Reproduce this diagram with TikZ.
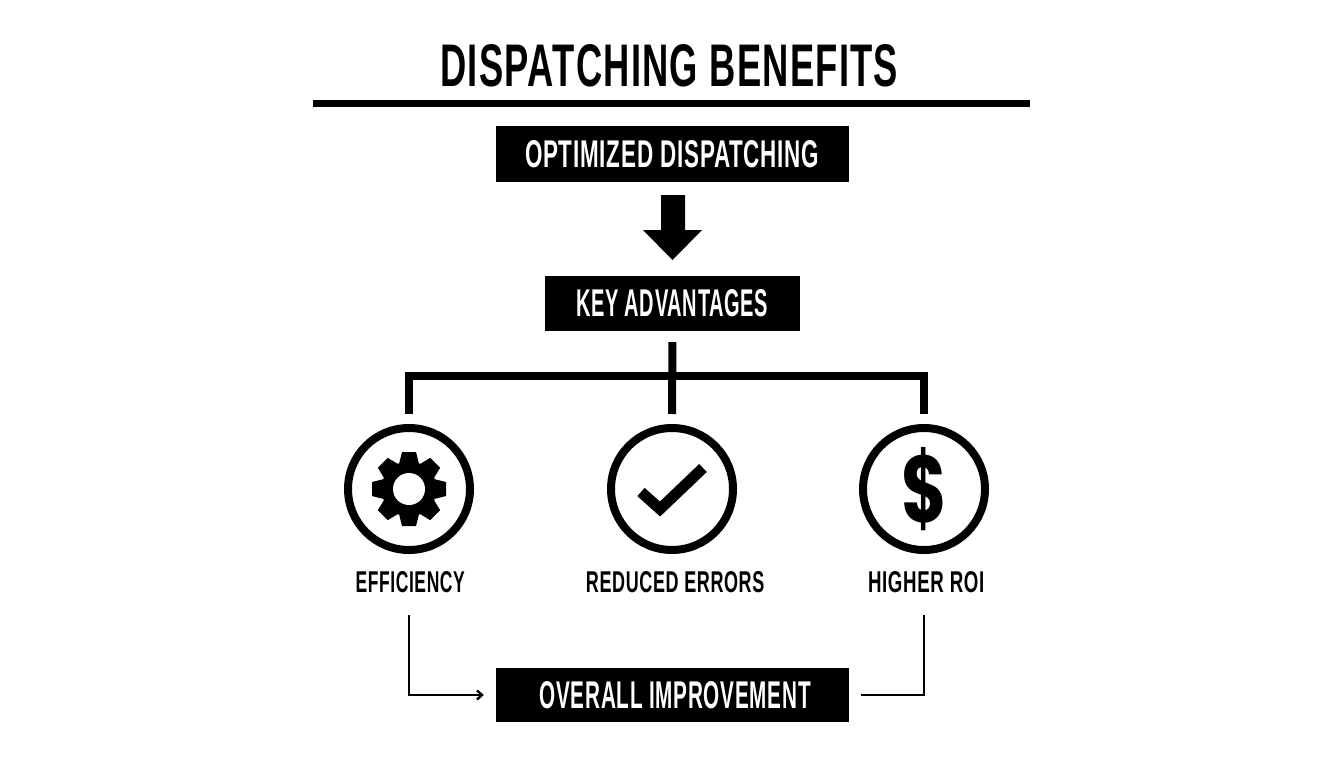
\documentclass[tikz,border=0pt]{standalone}
\usepackage{graphicx}
\usepackage{fontspec}
\setmainfont[LetterSpace=3.5]{Liberation Sans}
\newfontfamily\dollarfont{Poppins}
\usetikzlibrary{arrows.meta}
\newcommand{\fit}[3]{\resizebox{#1pt}{#2pt}{\textbf{#3}}}
\tikzset{
  banner/.style={fill=black,text=white,inner sep=0pt,minimum height=55pt},
  plain/.style={inner sep=0pt,text=black},
  ring/.style={circle,draw=black,line width=8pt,minimum size=122pt,inner sep=0pt},
  bus/.style={draw=black,line width=8pt},
  thin link/.style={draw=black,line width=2.4pt}
}
\begin{document}
\begin{tikzpicture}[x=1pt,y=-1pt]
\useasboundingbox (0,0) rectangle (1344,768);
\fill[white] (0,0) rectangle (1344,768);
% title
\node[plain] (title) at (670,66) {\fit{459}{42}{DISPATCHING BENEFITS}};
\coordinate (ruleL) at (313,103.5);
\coordinate (ruleR) at (1030,103.5);
\draw[bus,line width=7pt] (ruleL) -- (ruleR);
% boxes
\node[banner,minimum width=353pt,minimum height=56pt] (opt) at (672.5,154) {\fit{295}{27}{OPTIMIZED DISPATCHING}};
\node[banner,minimum width=255pt] (adv) at (672.5,303.5) {\fit{193}{27}{KEY ADVANTAGES}};
\node[banner,minimum width=353pt,minimum height=54pt] (overall) at (672.5,695) {\hspace{6pt}\fit{272}{27}{OVERALL IMPROVEMENT}};
% block arrow
\fill[black] (661,195) -- (685,195) -- (685,230) -- (702,230) -- (672.5,260) -- (643,230) -- (661,230) -- cycle;
% rings
\node[ring] (gear) at (409,489) {};
\node[ring] (check) at (672,489) {};
\node[ring] (roi) at (924,489) {};
% bus
\coordinate (junction) at (672.5,376);
\draw[bus,shorten <=11pt,shorten >=10pt] (adv.south) -- (check.north);
\draw[bus,line join=miter,shorten >=10pt] (junction) -| (gear.north);
\draw[bus,line join=miter,shorten >=10pt] (junction) -| (roi.north);
% gear icon
\begin{scope}[shift={(gear.center)}]
  \fill[black] (0,0) circle (27.5);
  \foreach \a in {0,45,...,315}{
    \fill[black,rotate=\a] (-10,-25) -- (-7,-37) -- (7,-37) -- (10,-25) -- cycle;
  }
  \fill[white] (0,0) circle (16);
\end{scope}
% check icon
\coordinate (ck1) at (641,492);
\coordinate (ck2) at (660,509);
\coordinate (ck3) at (703,468);
\draw[black,line width=11pt,line join=miter] (ck1) -- (ck2) -- (ck3);
% dollar icon
\node[plain] (dollar) at (924,489.5) {\resizebox{46pt}{75pt}{\dollarfont\bfseries \$}};
% labels
\node[plain] (efflab) at (410.5,582.5) {\fit{110}{21}{EFFICIENCY}};
\node[plain] (errlab) at (675.5,582.5) {\fit{179}{21}{REDUCED ERRORS}};
\node[plain] (roilab) at (926.5,582.5) {\fit{117}{21}{HIGHER ROI}};
% thin links
\coordinate (effout) at (409,615);
\coordinate (roiout) at (924,615);
\draw[thin link,-{Straight Barb[length=5pt,width=9pt]},shorten >=12pt] (effout) |- (overall.west);
\draw[thin link,shorten >=12pt] (roiout) |- (overall.east);
\end{tikzpicture}
\end{document}
